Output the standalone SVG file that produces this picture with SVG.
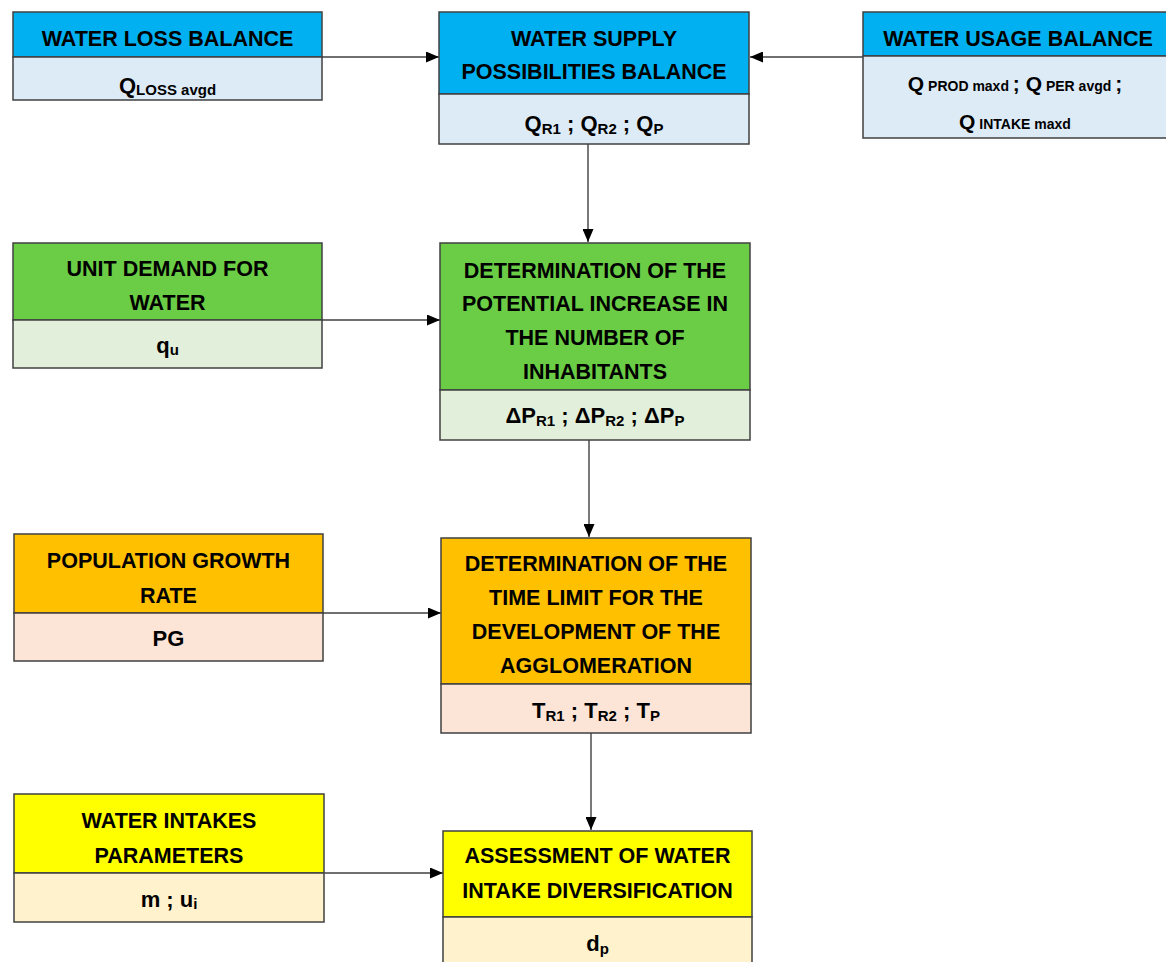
<svg xmlns="http://www.w3.org/2000/svg" width="1166" height="962" viewBox="0 0 1166 962">
<style>
.t{font-family:"Liberation Sans",Arial,sans-serif;font-weight:bold;font-size:21.5px;fill:#000;text-anchor:middle}
.s{font-family:"Liberation Sans",Arial,sans-serif;font-weight:bold;font-size:22px;fill:#000;text-anchor:middle}
.sub{font-size:15px}
.s3{font-size:21px}
.s3 .sub{font-size:14px}
.box{stroke:#404040;stroke-width:1.5}
.b1{fill:#00B0F0}.b2{fill:#DDEBF7}
.g1{fill:#6ACD45}.g2{fill:#E2EFDA}
.o1{fill:#FFC000}.o2{fill:#FCE4D6}
.y1{fill:#FFFF00}.y2{fill:#FFF2CC}
.c{stroke:#404040;stroke-width:1.4;fill:none;marker-end:url(#ah)}
</style>
<defs>
<marker id="ah" viewBox="0 0 13 11" refX="13" refY="5.5" markerWidth="13" markerHeight="11" markerUnits="userSpaceOnUse" orient="auto">
<path d="M0,0 L13,5.5 L0,11 Z" fill="#000"/>
</marker>
</defs>
<rect width="1166" height="962" fill="#fff"/>

<g id="connectors">
<line class="c" x1="322" y1="57" x2="439" y2="57"/>
<line class="c" x1="863" y1="57" x2="750" y2="57"/>
<line class="c" x1="588" y1="144" x2="588" y2="242"/>
<line class="c" x1="322" y1="320" x2="440" y2="320"/>
<line class="c" x1="589" y1="440" x2="589" y2="537"/>
<line class="c" x1="323" y1="613" x2="441" y2="613"/>
<line class="c" x1="591" y1="733" x2="591" y2="830"/>
<line class="c" x1="325" y1="873" x2="443" y2="873"/>
</g>

<g id="water-loss-balance">
<rect class="box b1" x="13" y="12" width="309" height="45"/>
<rect class="box b2" x="13" y="57" width="309" height="43"/>
<text class="t" x="167.5" y="46">WATER LOSS BALANCE</text>
<text class="s" x="167.5" y="93">Q<tspan class="sub" dy="2">LOSS avgd</tspan></text>
</g>

<g id="water-supply-balance">
<rect class="box b1" x="439" y="12" width="310" height="82"/>
<rect class="box b2" x="439" y="94" width="310" height="50"/>
<text class="t" x="594" y="46">WATER SUPPLY</text>
<text class="t" x="594" y="79">POSSIBILITIES BALANCE</text>
<text class="s" x="594" y="131">Q<tspan class="sub" dy="3">R1</tspan><tspan dy="-3"> ; Q</tspan><tspan class="sub" dy="3">R2</tspan><tspan dy="-3"> ; Q</tspan><tspan class="sub" dy="3">P</tspan></text>
</g>

<g id="water-usage-balance">
<rect class="box b1" x="863" y="12" width="310" height="44"/>
<rect class="box b2" x="863" y="56" width="310" height="82"/>
<text class="t" x="1018" y="46">WATER USAGE BALANCE</text>
<text class="s s3" x="1015" y="91">Q<tspan class="sub"> PROD maxd </tspan>; Q<tspan class="sub"> PER avgd </tspan>;</text>
<text class="s s3" x="1015" y="129">Q<tspan class="sub"> INTAKE maxd</tspan></text>
</g>

<g id="unit-demand">
<rect class="box g1" x="13" y="243" width="309" height="77"/>
<rect class="box g2" x="13" y="320" width="309" height="48"/>
<text class="t" x="167.5" y="276">UNIT DEMAND FOR</text>
<text class="t" x="167.5" y="310">WATER</text>
<text class="s" x="167.5" y="353">q<tspan class="sub" dy="2">u</tspan></text>
</g>

<g id="potential-increase">
<rect class="box g1" x="440" y="243" width="310" height="147"/>
<rect class="box g2" x="440" y="390" width="310" height="50"/>
<text class="t" x="595" y="278">DETERMINATION OF THE</text>
<text class="t" x="595" y="311">POTENTIAL INCREASE IN</text>
<text class="t" x="595" y="345">THE NUMBER OF</text>
<text class="t" x="595" y="379">INHABITANTS</text>
<text class="s" x="595" y="423">ΔP<tspan class="sub" dy="3">R1</tspan><tspan dy="-3"> ; ΔP</tspan><tspan class="sub" dy="3">R2</tspan><tspan dy="-3"> ; ΔP</tspan><tspan class="sub" dy="3">P</tspan></text>
</g>

<g id="population-growth">
<rect class="box o1" x="14" y="534" width="309" height="79"/>
<rect class="box o2" x="14" y="613" width="309" height="48"/>
<text class="t" x="168.5" y="568">POPULATION GROWTH</text>
<text class="t" x="168.5" y="603">RATE</text>
<text class="s" x="168.5" y="646">PG</text>
</g>

<g id="time-limit">
<rect class="box o1" x="441" y="538" width="310" height="146"/>
<rect class="box o2" x="441" y="684" width="310" height="49"/>
<text class="t" x="596" y="571">DETERMINATION OF THE</text>
<text class="t" x="596" y="605">TIME LIMIT FOR THE</text>
<text class="t" x="596" y="639">DEVELOPMENT OF THE</text>
<text class="t" x="596" y="673">AGGLOMERATION</text>
<text class="s" x="596" y="718">T<tspan class="sub" dy="3">R1</tspan><tspan dy="-3"> ; T</tspan><tspan class="sub" dy="3">R2</tspan><tspan dy="-3"> ; T</tspan><tspan class="sub" dy="3">P</tspan></text>
</g>

<g id="water-intakes-parameters">
<rect class="box y1" x="14" y="794" width="310" height="79"/>
<rect class="box y2" x="14" y="873" width="310" height="49"/>
<text class="t" x="169" y="828">WATER INTAKES</text>
<text class="t" x="169" y="863">PARAMETERS</text>
<text class="s" x="169" y="907">m ; u<tspan class="sub" dy="2">i</tspan></text>
</g>

<g id="water-intake-diversification">
<rect class="box y1" x="443" y="831" width="309" height="86"/>
<rect class="box y2" x="443" y="917" width="309" height="60"/>
<text class="t" x="597.5" y="863">ASSESSMENT OF WATER</text>
<text class="t" x="597.5" y="898">INTAKE DIVERSIFICATION</text>
<text class="s" x="597.5" y="951">d<tspan class="sub" dy="3">p</tspan></text>
</g>
</svg>
